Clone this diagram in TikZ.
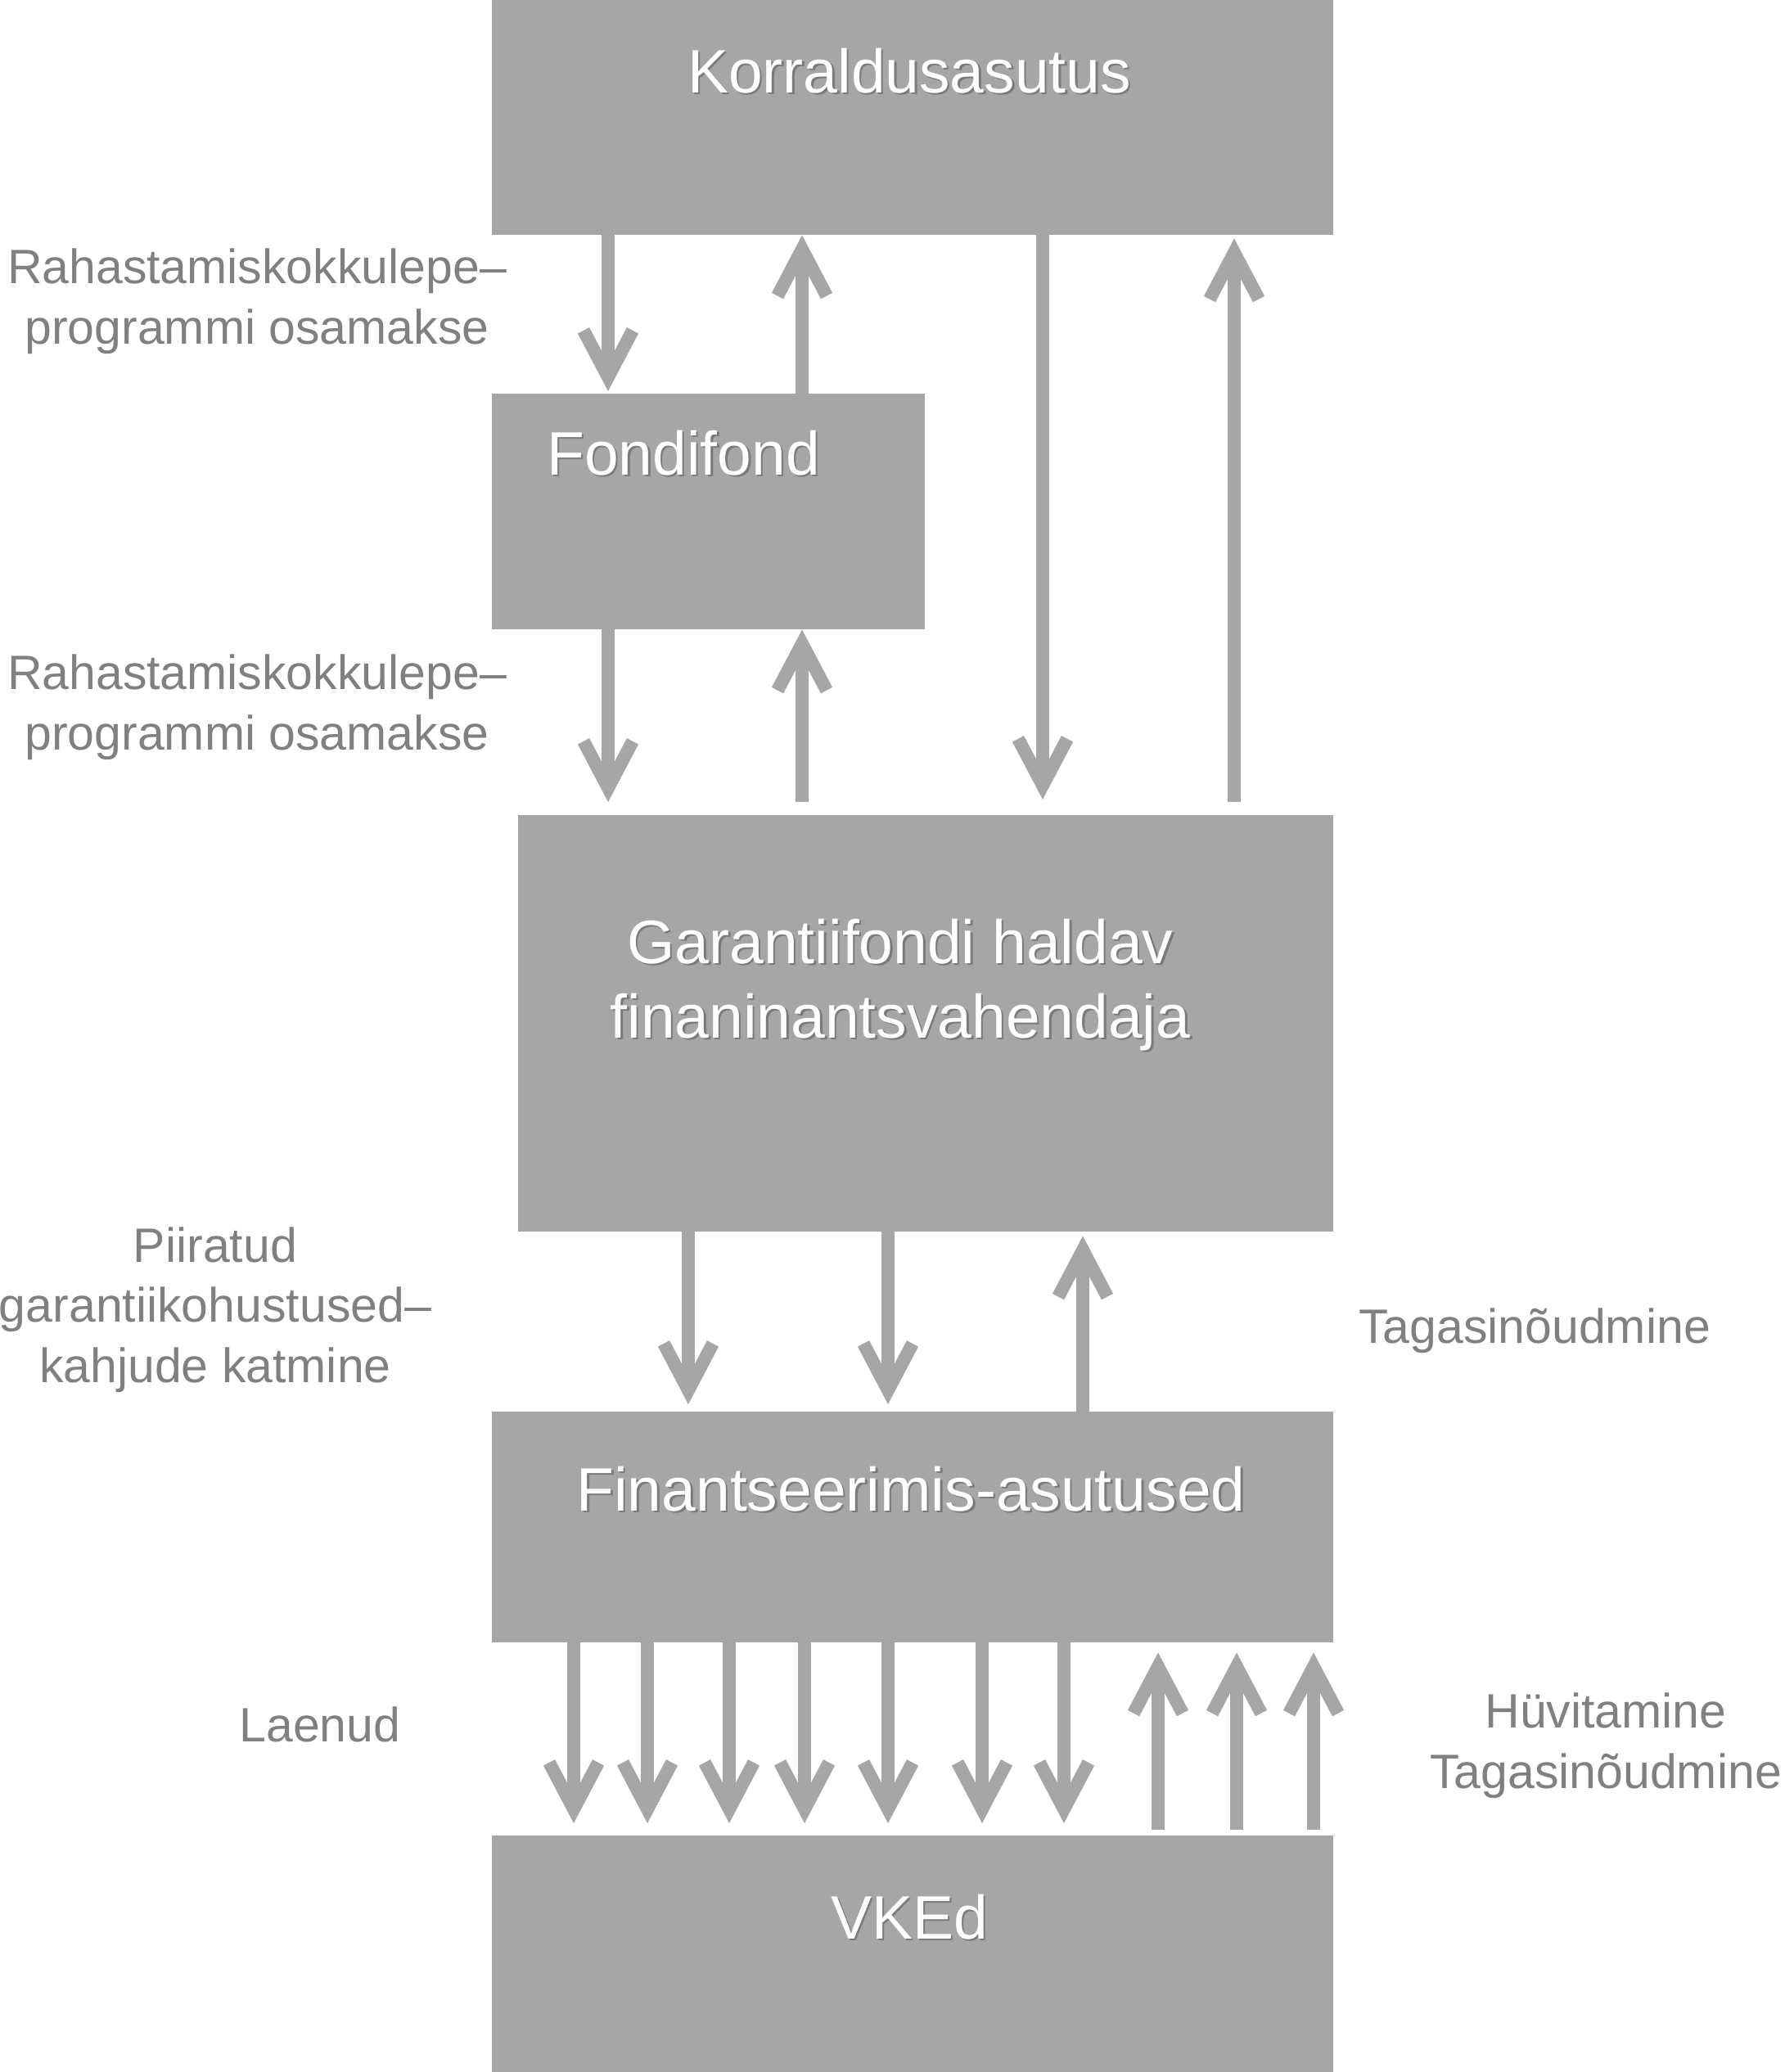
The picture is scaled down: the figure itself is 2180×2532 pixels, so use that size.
\documentclass[tikz,border=0pt]{standalone}
\usepackage{fontspec}
\setmainfont{Liberation Sans}
\usetikzlibrary{arrows.meta}
\definecolor{boxgray}{HTML}{A6A6A6}
\definecolor{labgray}{HTML}{808080}
\definecolor{shgray}{HTML}{7A7A7A}
\newcommand\shtxt[1]{\makebox[0pt][l]{\hspace{2.5pt}\raisebox{-2.5pt}{\color{shgray}#1}}#1}
\begin{document}
\begin{tikzpicture}[x=1pt,y=-1pt,
 box/.style={fill=boxgray, draw=none, inner sep=0pt, anchor=north west},
 boxtext/.style={text=white, font=\fontsize{75}{91}\selectfont, anchor=base, align=center, inner sep=0pt},
 lab/.style={text=labgray, font=\fontsize{59}{73.5}\selectfont, anchor=base, align=center, inner sep=0pt},
 arr/.style={draw=boxgray, line width=16pt, -{Straight Barb[length=57pt,width=60pt]}}
]
\useasboundingbox (0,0) rectangle (2180,2532);
% boxes
\node[box, minimum width=1028pt, minimum height=287pt] (korr) at (601,0) {};
\node[box, minimum width=529pt, minimum height=288pt] (fondi) at (601,481) {};
\node[box, minimum width=996pt, minimum height=509pt] (gar) at (633,996) {};
\node[box, minimum width=1028pt, minimum height=282pt] (fin) at (601,1725) {};
\node[box, minimum width=1028pt, minimum height=289pt] (vke) at (601,2243) {};
% box texts
\node[boxtext] (korrT) at (1111,113) {\shtxt{Korraldusasutus}};
\node[boxtext] (fondiT) at (835,580) {\shtxt{Fondifond}};
\node[boxtext] (garT) at (1100,1268) {\shtxt{Garantiifondi haldav}\\\shtxt{finaninantsvahendaja}};
\node[boxtext] (finT) at (1113,1846) {\shtxt{Finantseerimis-asutused}};
\node[boxtext] (vkeT) at (1111,2369) {\shtxt{VKEd}};
% side labels
\node[lab] (l1) at (314,420) {Rahastamiskokkulepe–\\programmi osamakse};
\node[lab] (l2) at (314,916) {Rahastamiskokkulepe–\\programmi osamakse};
\node[lab] (l3) at (263,1689) {Piiratud\\garantiikohustused–\\kahjude katmine};
\node[lab] (l4) at (1875,1641) {Tagasinõudmine};
\node[lab] (l5) at (391,2128) {Laenud};
\node[lab] (l6) at (1962,2185) {Hüvitamine\\Tagasinõudmine};
% arrow columns
\coordinate (xa) at (743,0);
\coordinate (xb) at (980,0);
\coordinate (xc) at (1274,0);
\coordinate (xd) at (1508,0);
\coordinate (xe) at (841,0);
\coordinate (xf) at (1085,0);
\coordinate (xg) at (1323,0);
% Korr <-> Fondifond
\draw[arr, shorten >=3pt] (xa |- korr.south) -- (xa |- fondi.north);
\draw[arr] (xb |- fondi.north) -- (xb |- korr.south);
% long arrows Korr <-> Garantii
\draw[arr, shorten >=19pt] (xc |- korr.south) -- (xc |- gar.north);
\draw[arr, shorten <=16pt, shorten >=4pt] (xd |- gar.north) -- (xd |- korr.south);
% Fondifond <-> Garantii
\draw[arr, shorten >=16pt] (xa |- fondi.south) -- (xa |- gar.north);
\draw[arr, shorten <=16pt] (xb |- gar.north) -- (xb |- fondi.south);
% Garantii <-> Finants
\draw[arr, shorten >=9pt] (xe |- gar.south) -- (xe |- fin.north);
\draw[arr, shorten >=9pt] (xf |- gar.south) -- (xf |- fin.north);
\draw[arr, shorten >=5pt] (xg |- fin.north) -- (xg |- gar.south);
% Finants <-> VKEd
\foreach \x [count=\i] in {701,791,891,983,1085,1200,1300}{
  \coordinate (d\i) at (\x,0);
  \draw[arr, shorten >=15pt] (d\i |- fin.south) -- (d\i |- vke.north);
}
\foreach \x [count=\i] in {1415,1511,1605}{
  \coordinate (u\i) at (\x,0);
  \draw[arr, shorten <=7pt, shorten >=12pt] (u\i |- vke.north) -- (u\i |- fin.south);
}
\end{tikzpicture}
\end{document}
